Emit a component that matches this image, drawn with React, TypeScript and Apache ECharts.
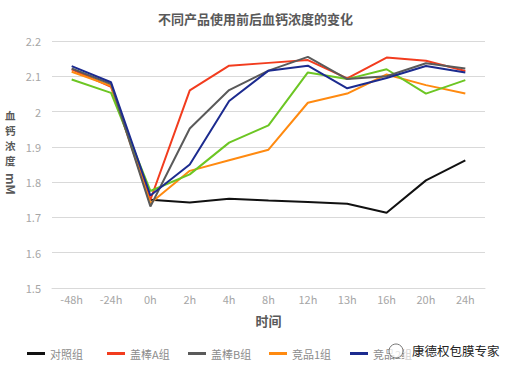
import React, { useEffect, useRef } from "react";
import * as echarts from "echarts";

const categories = ["-48h", "-24h", "0h", "2h", "4h", "8h", "12h", "13h", "16h", "20h", "24h"];
const seriesNames = ["对照组", "盖棒A组", "盖棒B组", "竞品1组", "竞品2组", "竞品3组"];
const controlGroup = [null, null, 1.75, 1.742, 1.753, 1.748, 1.744, 1.739, 1.713, 1.805, 1.862];
const rodA = [2.12, 2.07, 1.75, 2.06, 2.13, 2.138, 2.146, 2.094, 2.153, 2.144, 2.115];
const rodB = [2.122, 2.078, 1.731, 1.952, 2.061, 2.116, 2.155, 2.092, 2.1, 2.137, 2.122];
const comp1 = [2.113, 2.073, 1.74, 1.832, 1.862, 1.892, 2.025, 2.051, 2.105, 2.075, 2.051];
const comp2 = [2.129, 2.083, 1.762, 1.85, 2.03, 2.116, 2.13, 2.066, 2.095, 2.129, 2.111];
const comp3 = [2.091, 2.053, 1.775, 1.822, 1.912, 1.961, 2.111, 2.092, 2.12, 2.051, 2.089];
const colors = ["#111111", "#f23c1e", "#5a5a5a", "#ff8a10", "#1c2b8f", "#6cc623"];
const yTicks = { min: 1.5, max: 2.2, interval: 0.1 };
const yNameChars = ["血", "钙", "浓", "度"];

const FONT = "'Noto Sans CJK SC', 'Noto Sans', sans-serif";

export default function App() {
  const ref = useRef<HTMLDivElement>(null);
  useEffect(() => {
    if (!ref.current) return;
    const chart = echarts.init(ref.current, null, { renderer: "svg" });
    const data = [controlGroup, rodA, rodB, comp1, comp2, comp3];
    const legendLefts = [22, 102, 183, 264, 345];
    chart.setOption({
      animation: false,
      backgroundColor: "#ffffff",
      title: {
        text: "不同产品使用前后血钙浓度的变化",
        left: "center",
        top: 7,
        textStyle: { fontSize: 13, fontWeight: "bold", color: "#595959", fontFamily: FONT },
      },
      legend: legendLefts.map((l, i) => ({
        data: [seriesNames[i]],
        left: l,
        top: 343,
        itemWidth: 18,
        itemHeight: 3,
        itemGap: 5,
        icon: "rect",
        textStyle: { fontSize: 11, color: "#8c8c8c", fontFamily: FONT },
      })),
      grid: { left: 52, right: 26, top: 41, bottom: 83 },
      xAxis: {
        type: "category",
        data: categories,
        boundaryGap: true,
        name: "时间",
        nameLocation: "middle",
        nameGap: 26,
        nameTextStyle: { fontSize: 13, fontWeight: "bold", color: "#595959", fontFamily: FONT },
        axisLine: { lineStyle: { color: "#d9d9d9", width: 1 } },
        axisTick: { show: false },
        axisLabel: { color: "#a6a6a6", fontSize: 11, margin: 5, fontFamily: FONT },
      },
      yAxis: {
        type: "value",
        min: yTicks.min,
        max: yTicks.max,
        interval: yTicks.interval,
        axisLine: { show: false },
        axisTick: { show: false },
        axisLabel: {
          color: "#a6a6a6",
          fontSize: 11,
          margin: 11,
          fontFamily: FONT,
          formatter: (v: number) => String(Math.round(v * 10) / 10),
        },
        splitLine: { lineStyle: { color: "#d9d9d9", width: 1 } },
      },
      graphic: [
        ...yNameChars.map((c, i) => ({
          type: "text",
          x: 5,
          y: 110 + i * 15,
          style: {
            text: c,
            fontSize: 10.5,
            fontWeight: "bold",
            fill: "#595959",
            fontFamily: FONT,
          },
        })),
        {
          type: "text",
          x: 18,
          y: 173,
          rotation: -Math.PI / 2,
          style: {
            text: "mM",
            fontSize: 12,
            fontWeight: "bold",
            fill: "#595959",
            fontFamily: FONT,
          },
        },
        {
          type: "circle",
          shape: { cx: 396, cy: 351, r: 7 },
          style: { fill: "rgba(255,255,255,0.75)", stroke: "#777", lineWidth: 1 },
          z: 100,
        },
        {
          type: "rect",
          shape: { x: 404, y: 342, width: 95, height: 20 },
          style: { fill: "rgba(255,255,255,0.6)" },
          z: 99,
        },
        {
          type: "text",
          left: 411,
          top: 343,
          z: 100,
          style: {
            text: "康德权包膜专家",
            fontSize: 12.5,
            fill: "#222",
            stroke: "#fff",
            lineWidth: 2,
            fontFamily: FONT,
          },
        },
      ],
      series: data.map((d, i) => ({
        name: seriesNames[i],
        type: "line",
        data: d,
        symbol: "none",
        connectNulls: false,
        lineStyle: { width: 2, color: colors[i] },
        itemStyle: { color: colors[i] },
        z: [1, 2, 4, 3, 5, 3][i],
      })),
    });
    return () => chart.dispose();
  }, []);
  return <div ref={ref} style={{ width: 511, height: 371, position: "absolute", left: 0, top: 0 }} />;
}
